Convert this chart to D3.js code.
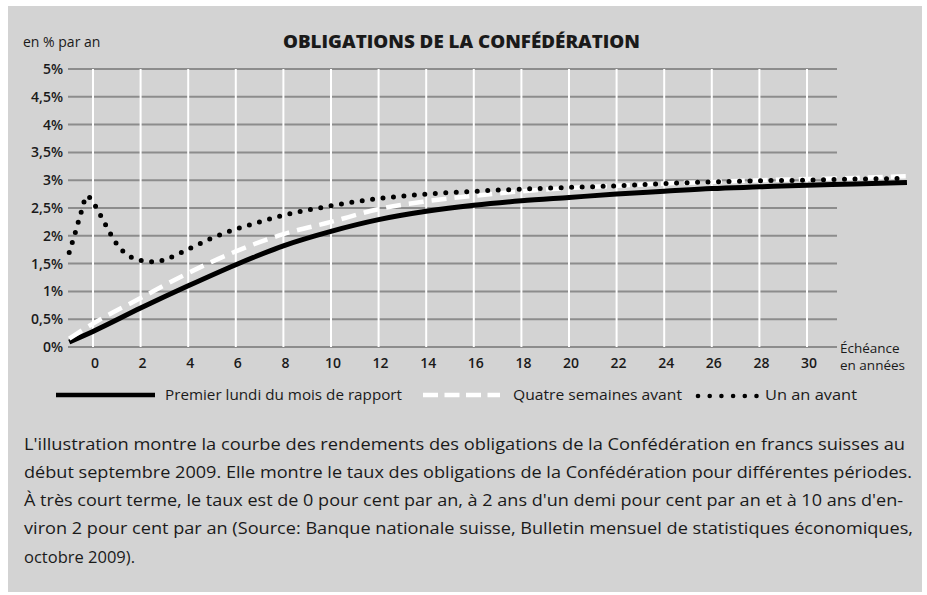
<!DOCTYPE html>
<html>
<head>
<meta charset="utf-8">
<script src="https://cdn.jsdelivr.net/npm/d3@7"></script>
<style>
  body { margin: 0; background: #fff; }
  text { font-family: "Open Sans", "DejaVu Sans", sans-serif; fill: #1a1a1a; }
</style>
</head>
<body>
<svg id="chart" width="927" height="595"></svg>
<script>
// Tick labels
const yTicks = [0, 0.5, 1, 1.5, 2, 2.5, 3, 3.5, 4, 4.5, 5];
const xTicks = [0, 2, 4, 6, 8, 10, 12, 14, 16, 18, 20, 22, 24, 26, 28, 30];

// Series: [maturity in years, yield in % per year]
const premierLundi = [[-1, 0.09], [0, 0.28], [2, 0.7], [4, 1.1], [6, 1.48], [8, 1.82], [10, 2.08],
  [12, 2.29], [14, 2.44], [16, 2.55], [18, 2.63], [20, 2.69], [22, 2.75], [24, 2.8], [26, 2.85],
  [28, 2.88], [30, 2.91], [32, 2.93], [34.2, 2.96]];
const quatreSemaines = [[-1, 0.15], [0, 0.42], [2, 0.88], [4, 1.33], [6, 1.72], [8, 2.03], [10, 2.25],
  [12, 2.48], [14, 2.62], [16, 2.72], [18, 2.8], [20, 2.86], [22, 2.9], [24, 2.94], [26, 2.97],
  [28, 3.0], [30, 3.02], [32, 3.04], [34.2, 3.07]];
const unAnAvant = [[-1, 1.7], [-0.75, 2.05], [-0.5, 2.42], [-0.25, 2.72], [0, 2.6], [0.5, 2.22],
  [1, 1.85], [1.5, 1.64], [2, 1.56], [2.6, 1.53], [3, 1.57], [4, 1.76], [5, 1.96], [6, 2.12],
  [7, 2.25], [8, 2.37], [9, 2.46], [10, 2.54], [12, 2.67], [14, 2.75], [16, 2.8], [18, 2.84],
  [20, 2.87], [22, 2.9], [24, 2.94], [26, 2.97], [28, 2.99], [30, 3.0], [32, 3.02], [34.2, 3.03]];

const legendLabels = ['Premier lundi du mois de rapport', 'Quatre semaines avant', 'Un an avant'];

const captionLines = [
  "L'illustration montre la courbe des rendements des obligations de la Confédération en francs suisses au",
  "début septembre 2009. Elle montre le taux des obligations de la Confédération pour différentes périodes.",
  "À très court terme, le taux est de 0 pour cent par an, à 2 ans d'un demi pour cent par an et à 10 ans d'en-",
  "viron 2 pour cent par an (Source: Banque nationale suisse, Bulletin mensuel de statistiques économiques,",
  "octobre 2009)."
];
const captionWidths = [881, 888, 879, 889, null];

const svg = d3.select('#chart');

// panel
svg.append('rect')
  .attr('x', 8).attr('y', 6).attr('width', 914).attr('height', 586)
  .attr('fill', '#d3d3d3');

const x = d3.scaleLinear().domain([0, 30]).range([93, 807]);
const y = d3.scaleLinear().domain([0, 5]).range([347, 69]);
const gridLeft = 68, gridRight = 837;

// horizontal grid
svg.append('g').selectAll('line').data(yTicks).join('line')
  .attr('x1', gridLeft).attr('x2', gridRight)
  .attr('y1', d => y(d)).attr('y2', d => y(d))
  .attr('stroke', '#8c8c8c').attr('stroke-width', 2);

// vertical grid
svg.append('g').selectAll('line').data(xTicks).join('line')
  .attr('x1', d => x(d)).attr('x2', d => x(d))
  .attr('y1', y(5)).attr('y2', y(0))
  .attr('stroke', '#ffffff').attr('stroke-width', 2);

// y labels
svg.append('g').selectAll('text').data(yTicks).join('text')
  .attr('x', 63).attr('y', d => y(d)).attr('dy', '0.35em')
  .attr('text-anchor', 'end')
  .attr('font-size', 14).attr('font-weight', 600)
  .text(d => String(d).replace('.', ',') + '%');

// x labels
svg.append('g').selectAll('text').data(xTicks).join('text')
  .attr('x', d => x(d) + 2).attr('y', 363).attr('dy', '0.35em')
  .attr('text-anchor', 'middle')
  .attr('font-size', 14).attr('font-weight', 600)
  .text(d => d);

svg.append('text').attr('x', 840).attr('y', 348).attr('dy', '0.35em')
  .attr('font-size', 13.5).text('Échéance');
svg.append('text').attr('x', 840).attr('y', 365).attr('dy', '0.35em')
  .attr('font-size', 13.5).text('en années');

svg.append('text').attr('x', 23).attr('y', 42).attr('dy', '0.35em')
  .attr('font-size', 14).text('en % par an');

svg.append('text').attr('x', 283).attr('y', 42).attr('dy', '0.35em')
  .attr('font-size', 17).attr('font-weight', 800)
  .attr('textLength', 357).attr('lengthAdjust', 'spacingAndGlyphs')
  .text('OBLIGATIONS DE LA CONFÉDÉRATION');

// curves
const line = d3.line()
  .x(d => x(d[0])).y(d => y(d[1]))
  .curve(d3.curveMonotoneX);

svg.append('path').datum(premierLundi)
  .attr('d', line).attr('fill', 'none')
  .attr('stroke', '#000').attr('stroke-width', 5);

svg.append('path').datum(quatreSemaines)
  .attr('d', line).attr('fill', 'none')
  .attr('stroke', '#fff').attr('stroke-width', 4.5)
  .attr('stroke-dasharray', '15 8');

svg.append('path').datum(unAnAvant)
  .attr('d', line).attr('fill', 'none')
  .attr('stroke', '#000').attr('stroke-width', 5)
  .attr('stroke-linecap', 'round')
  .attr('stroke-dasharray', '0 10.5');

// legend
const legendY = 395;
svg.append('line').attr('x1', 56).attr('x2', 155).attr('y1', legendY).attr('y2', legendY)
  .attr('stroke', '#000').attr('stroke-width', 4.5);
svg.append('line').attr('x1', 423).attr('x2', 500).attr('y1', legendY).attr('y2', legendY)
  .attr('stroke', '#fff').attr('stroke-width', 4.5).attr('stroke-dasharray', '15 6.5');
svg.append('g').selectAll('circle').data(d3.range(6)).join('circle')
  .attr('cx', i => 698 + i * 11.7).attr('cy', legendY + 1).attr('r', 2.3)
  .attr('fill', '#000');

const legendX = [165, 513, 765];
const legendW = [237, 169, 92];
svg.append('g').selectAll('text').data(legendLabels).join('text')
  .attr('x', (d, i) => legendX[i]).attr('y', legendY).attr('dy', '0.35em')
  .attr('font-size', 14)
  .attr('textLength', (d, i) => legendW[i]).attr('lengthAdjust', 'spacingAndGlyphs')
  .text(d => d);

// caption
const caption = svg.append('g').selectAll('text').data(captionLines).join('text')
  .attr('x', 24).attr('y', (d, i) => 444 + i * 28.2).attr('dy', '0.35em')
  .attr('font-size', 16.5)
  .text(d => d);
caption.filter((d, i) => captionWidths[i] !== null)
  .attr('textLength', (d, i) => captionWidths[i])
  .attr('lengthAdjust', 'spacingAndGlyphs');
</script>
</body>
</html>
